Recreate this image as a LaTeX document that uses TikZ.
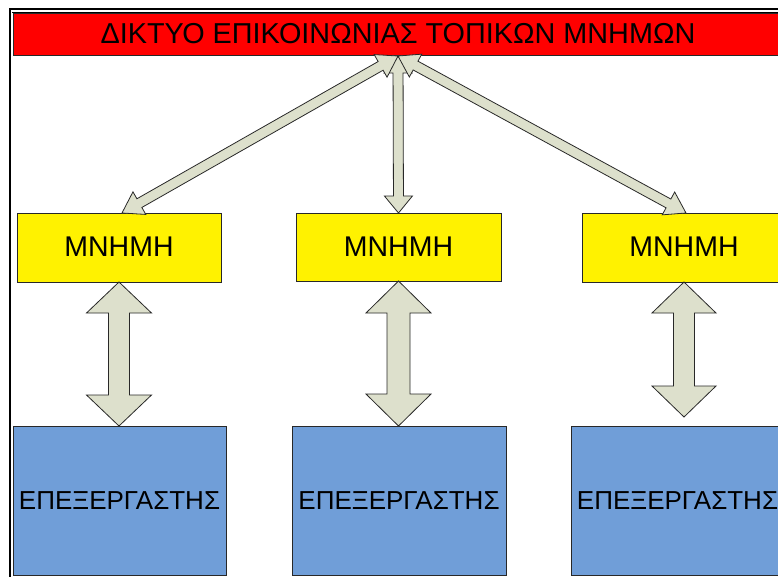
\documentclass[tikz,border=0pt]{standalone}
\usepackage{fontspec}
\setmainfont{Liberation Sans}
\usetikzlibrary{calc}
\definecolor{arrfill}{RGB}{221,224,204}
\definecolor{procblue}{RGB}{112,158,216}
\definecolor{edgegray}{RGB}{40,40,40}
\newcommand\blockarr[5]{%
 \coordinate (ba1) at ($(#1)!#5!(#2)$);
 \coordinate (ba2) at ($(#2)!#5!(#1)$);
 \draw[arrowstyle] (#1) -- ($(ba1)!#4!90:(#2)$) -- ($(ba1)!#3!90:(#2)$) -- ($(ba2)!#3!-90:(#1)$) -- ($(ba2)!#4!-90:(#1)$) -- (#2) -- ($(ba2)!#4!90:(#1)$) -- ($(ba2)!#3!90:(#1)$) -- ($(ba1)!#3!-90:(#2)$) -- ($(ba1)!#4!-90:(#2)$) -- cycle;}
\begin{document}
\begin{tikzpicture}[x=1pt,y=-1pt,
  every node/.style={inner sep=0pt,outer sep=0pt},
  box/.style={draw=edgegray,line width=0.8pt,anchor=north west},
  netbox/.style={box,fill=red,minimum width=770pt,minimum height=42pt,font=\fontsize{28.8}{30}\selectfont},
  membox/.style={box,fill=yellow,minimum width=204pt,minimum height=69pt,font=\fontsize{28.5}{30}\selectfont},
  procbox/.style={box,fill=procblue,minimum width=213pt,minimum height=149pt,font=\fontsize{26}{28}\selectfont},
  arrowstyle/.style={draw=edgegray,fill=arrfill,line width=0.8pt,line join=miter}]
\useasboundingbox (0,0) rectangle (778,576);
\clip (0,0) rectangle (778,576);
\fill[white] (0,0) rectangle (778,576);
% frame
\draw[line width=2.2pt] (10,577) -- (10,9) -- (779,9);
\draw[line width=0.6pt] (12.5,13) -- (12.5,12.3) -- (779,12.3);
% nodes
\node[netbox] (net) at (13,13) {\raisebox{1pt}{ΔΙΚΤΥΟ ΕΠΙΚΟΙΝΩΝΙΑΣ ΤΟΠΙΚΩΝ ΜΝΗΜΩΝ}};
\node[membox] (m1) at (17,213) {\raisebox{1.5pt}{ΜΝΗΜΗ}};
\node[membox,minimum width=205pt,minimum height=68pt] (m2) at (296,213) {\raisebox{1.5pt}{ΜΝΗΜΗ}};
\node[membox] (m3) at (582,213) {\raisebox{1.5pt}{ΜΝΗΜΗ}};
\node[procbox] (p1) at (13,426) {ΕΠΕΞΕΡΓΑΣΤΗΣ};
\node[procbox,minimum width=214pt] (p2) at (292,426) {ΕΠΕΞΕΡΓΑΣΤΗΣ};
\node[procbox] (p3) at (571,426) {ΕΠΕΞΕΡΓΑΣΤΗΣ};
% coordinates
\coordinate (hub) at ($(net.south)+(0,1)$);
\coordinate (e1) at (m1.south |- p1.north);
\coordinate (e2) at (m2.south |- p2.north);
\coordinate (e3) at ($(m3.south)+(0,135)$);
\coordinate (t1) at ($(m1.north)+(3,0)$);
\coordinate (t3) at ($(m3.north)+(2,0)$);
% top arrows
\blockarr{hub}{m2.north}{5pt}{14pt}{17pt}
\blockarr{hub}{t1}{5pt}{13pt}{20pt}
\blockarr{hub}{t3}{5pt}{13pt}{20pt}
% vertical arrows
\blockarr{m1.south}{e1}{10.5pt}{32.5pt}{31pt}
\blockarr{m2.south}{e2}{11.5pt}{32.5pt}{32pt}
\blockarr{m3.south}{e3}{10.5pt}{32pt}{31pt}
\end{tikzpicture}
\end{document}
